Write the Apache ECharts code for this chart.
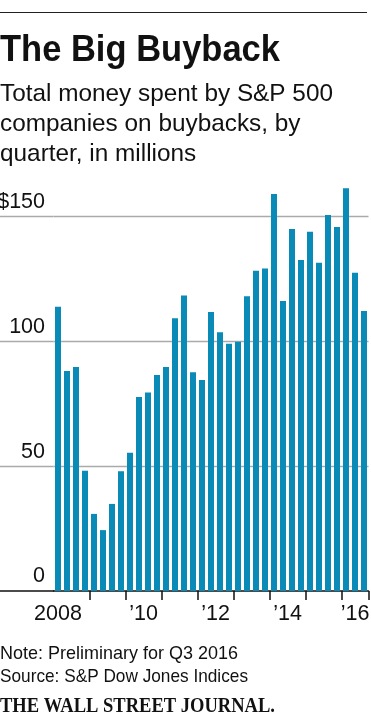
<!DOCTYPE html>
<html>
<head>
<meta charset="utf-8">
<script src="https://cdn.jsdelivr.net/npm/echarts@6/dist/echarts.min.js"></script>
<style>
html,body{margin:0;padding:0;background:#fff;}
#chart{width:371px;height:720px;}
</style>
</head>
<body>
<div id="chart"></div>
<script>
// ---- data ----
const categories = [
  'Q1 2008','Q2 2008','Q3 2008','Q4 2008',
  'Q1 2009','Q2 2009','Q3 2009','Q4 2009',
  'Q1 2010','Q2 2010','Q3 2010','Q4 2010',
  'Q1 2011','Q2 2011','Q3 2011','Q4 2011',
  'Q1 2012','Q2 2012','Q3 2012','Q4 2012',
  'Q1 2013','Q2 2013','Q3 2013','Q4 2013',
  'Q1 2014','Q2 2014','Q3 2014','Q4 2014',
  'Q1 2015','Q2 2015','Q3 2015','Q4 2015',
  'Q1 2016','Q2 2016','Q3 2016'
];
const buybacks = [
  113.9, 88.2, 89.8, 48.2,
  30.9, 24.4, 34.9, 48.0,
  55.4, 77.8, 79.6, 86.6,
  89.8, 109.3, 118.4, 87.7,
  84.6, 111.8, 103.7, 99.1,
  99.9, 118.1, 128.3, 129.3,
  159.1, 116.2, 145.1, 132.7,
  144.0, 131.6, 150.7, 145.9,
  161.4, 127.5, 112.2
];
const yTicks = [0, 50, 100, 150];
const yTickLabels = ['0', '50', '100', '$150'];
const xLabelQuarters = ['Q1 2008', 'Q2 2010', 'Q2 2012', 'Q2 2014', 'Q2 2016'];
const xLabelTexts = ['2008', '\u201910', '\u201912', '\u201914', '\u201916'];

const titleText = 'The Big Buyback';
const subtitleLines = ['Total money spent by S&P 500', 'companies on buybacks, by', 'quarter, in millions'];
const footerLines = ['Note: Preliminary for Q3 2016', 'Source: S&P Dow Jones Indices'];
const logoText = 'THE WALL STREET JOURNAL.';

// ---- font helpers ----
const ctx = document.createElement('canvas').getContext('2d');
function fontAvailable(name) {
  const s = 'mmmmmmmmmmlliWW0123456789';
  ctx.font = '72px monospace';
  const a = ctx.measureText(s).width;
  ctx.font = '72px "' + name + '", monospace';
  const b = ctx.measureText(s).width;
  return a !== b;
}
function firstFont(list) {
  for (const f of list) if (fontAvailable(f)) return f;
  return 'sans-serif';
}
function measure(text, family, weight, size) {
  ctx.font = weight + ' ' + size + 'px "' + family + '"';
  return ctx.measureText(text).width;
}
const sansFamily = firstFont(['Liberation Sans', 'Noto Sans', 'Roboto']);
const serifFamily = firstFont(['Liberation Serif', 'DejaVu Serif']);

// text drawn at a size matching the cap height, then squeezed to the reference width
function textEl(text, baseline, family, size, weight, targetWidth) {
  const w = measure(text, family, weight, size);
  const sx = targetWidth ? targetWidth / w : 1;
  return {
    type: 'text',
    x: 0,
    y: baseline - 0.35 * size,
    scaleX: sx,
    style: {
      text: text,
      fill: '#111',
      font: weight + ' ' + size + 'px "' + family + '"',
      align: 'left',
      verticalAlign: 'middle'
    }
  };
}
const subW0 = measure(subtitleLines[0], sansFamily, 'normal', 24.6);

const graphics = [
  { type: 'line', shape: { x1: 0, y1: 12.5, x2: 367, y2: 12.5 }, style: { stroke: '#222', lineWidth: 1 } },
  textEl(titleText, 63.3, sansFamily, 37, 'bold', 280),
  textEl(subtitleLines[0], 103.3, sansFamily, 24.6, 'normal', 333),
  textEl(subtitleLines[1], 133.3, sansFamily, 24.6, 'normal', 333 * measure(subtitleLines[1], sansFamily, 'normal', 24.6) / subW0),
  textEl(subtitleLines[2], 163.3, sansFamily, 24.6, 'normal', 333 * measure(subtitleLines[2], sansFamily, 'normal', 24.6) / subW0),
  textEl(footerLines[0], 660, sansFamily, 18.4, 'normal', 238),
  textEl(footerLines[1], 683.5, sansFamily, 18.4, 'normal', 248),
  textEl(logoText, 714.3, serifFamily, 21, 'bold', 275)
];

const gridTop = 179.3, gridBottom = 129;
const gridLeft = 53.5;
const yMax = 165;
const gridColor = '#aaaaaa';
const labelFont = sansFamily;

const chart = echarts.init(document.getElementById('chart'), null, { renderer: 'canvas' });
chart.setOption({
  animation: false,
  backgroundColor: '#fff',
  grid: [
    { left: gridLeft, right: 2.5, top: gridTop, bottom: gridBottom, containLabel: false, outerBoundsMode: 'none' },
    { left: 0, width: gridLeft, top: gridTop, bottom: gridBottom, containLabel: false, outerBoundsMode: 'none' }
  ],
  xAxis: [
    {
      type: 'category',
      gridIndex: 0,
      data: categories,
      boundaryGap: true,
      axisLine: { show: true, lineStyle: { color: '#111', width: 1.5 } },
      axisTick: {
        show: true,
        length: 9,
        lineStyle: { color: '#111', width: 1.5 },
        interval: function (index, value) { return index > 0 && String(value).indexOf('Q1') === 0; }
      },
      axisLabel: {
        show: true,
        hideOverlap: false,
        interval: function (index, value) { return xLabelQuarters.indexOf(value) >= 0; },
        formatter: function (value) {
          const i = xLabelQuarters.indexOf(value);
          if (i < 0) return '';
          const t = xLabelTexts[i];
          return /Q2/.test(value) && i < xLabelQuarters.length - 1 ? '{s|' + t + '}' : '{n|' + t + '}';
        },
        margin: 12.5,
        color: '#111',
        fontFamily: labelFont,
        fontSize: 21.5,
        lineHeight: 22,
        rich: {
          s: { padding: [0, 0, 0, 9], fontFamily: labelFont, fontSize: 21.5, color: '#111', lineHeight: 22 },
          n: { fontFamily: labelFont, fontSize: 21.5, color: '#111', lineHeight: 22 }
        }
      },
      splitLine: { show: false }
    },
    {
      type: 'category',
      gridIndex: 1,
      data: [''],
      show: true,
      axisLine: { show: true, onZero: false, lineStyle: { color: '#111', width: 1.5 } },
      axisTick: { show: false },
      axisLabel: { show: false },
      splitLine: { show: false }
    }
  ],
  yAxis: [
    {
      type: 'value',
      gridIndex: 0,
      min: 0, max: yMax, interval: 50,
      axisLine: { show: false },
      // gridlines continue leftwards under the labels
      axisTick: {
        show: true,
        inside: false,
        length: gridLeft,
        customValues: yTicks.filter(function (v) { return v > 0; }),
        lineStyle: { color: gridColor, width: 1.3 }
      },
      splitLine: { show: true, lineStyle: { color: gridColor, width: 1.3 } },
      axisLabel: {
        show: true,
        showMaxLabel: false,
        formatter: function (v) {
          const i = yTicks.indexOf(v);
          return i >= 0 ? yTickLabels[i] : '';
        },
        margin: 8.5,
        align: 'right',
        verticalAlign: 'bottom',
        lineHeight: 29,
        color: '#111',
        fontFamily: labelFont,
        fontSize: 21.5
      }
    },
    {
      type: 'value',
      gridIndex: 1,
      show: true,
      position: 'left',
      min: 0, max: yMax, interval: 50,
      axisLine: { show: false },
      axisTick: { show: false },
      axisLabel: { show: false },
      splitLine: { show: false }
    }
  ],
  series: [
    {
      type: 'bar',
      xAxisIndex: 0,
      yAxisIndex: 0,
      data: buybacks,
      barWidth: 6,
      itemStyle: { color: '#0a8ab7' },
      z: 1
    },
    {
      type: 'line',
      xAxisIndex: 1,
      yAxisIndex: 1,
      data: [],
      silent: true,
      showSymbol: false
    }
  ],
  graphic: graphics
});
</script>
</body>
</html>
